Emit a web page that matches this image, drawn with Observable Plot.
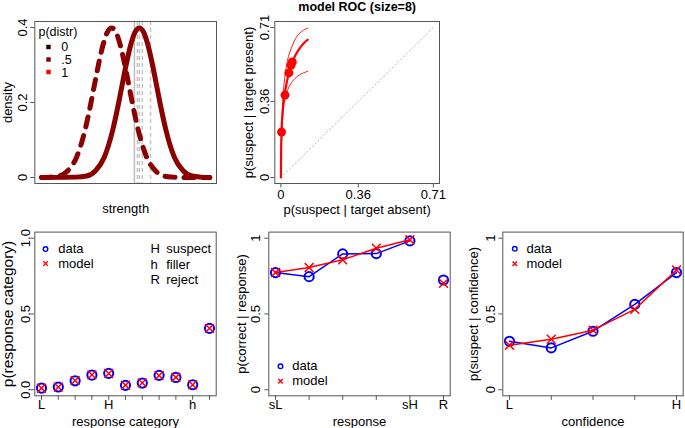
<!DOCTYPE html>
<html><head><meta charset="utf-8">
<script src="https://cdn.jsdelivr.net/npm/d3@7"></script>
<script src="https://cdn.jsdelivr.net/npm/@observablehq/plot@0.6"></script>
<style>
html,body{margin:0;padding:0;background:#fff;}
#root{position:relative;width:685px;height:428px;overflow:hidden;background:#fff;}
</style></head><body><div id="root"></div>
<script>
// ---------- Panel 1: strength distributions ----------
const foilStrength = [-4, -3.5, -3, -2.5, -2, -1.5, -1.25, -1, -0.75, -0.5, -0.25, 0, 0.25, 0.5, 0.75, 1, 1.25, 1.5, 2, 2.5, 3, 3.5, 4, 5.6];
const foilDensity  = [0, 0.001, 0.004, 0.018, 0.054, 0.13, 0.183, 0.242, 0.301, 0.352, 0.387, 0.399, 0.387, 0.352, 0.301, 0.242, 0.183, 0.13, 0.054, 0.018, 0.004, 0.001, 0, 0];
const targetStrength = [-4, -2, -1.42, -0.92, -0.42, 0.08, 0.33, 0.58, 0.83, 1.08, 1.33, 1.58, 1.83, 2.08, 2.33, 2.58, 2.83, 3.08, 3.58, 4.08, 4.58, 5.08, 5.6];
const targetDensity  = [0, 0.001, 0.004, 0.018, 0.054, 0.13, 0.183, 0.242, 0.301, 0.352, 0.387, 0.399, 0.387, 0.352, 0.301, 0.242, 0.183, 0.13, 0.054, 0.018, 0.004, 0.001, 0];
const critSolid = [1.30];
const critDashed = [1.47, 1.58, 1.75, 2.22];
const densTicks = [0, 0.2, 0.4];
const densTickLabels = ["0", "0.2", "0.4"];
const distrTitle = "p(distr)";
const distrLabels = ["0", ".5", "1"];
const distrColors = ["#1e0000", "#8B0000", "#FF0000"];

// ---------- Panel 2: model ROC ----------
const rocTitle = "model ROC (size=8)";
const rocMidFA  = [0, 0.001, 0.003, 0.008, 0.017, 0.027, 0.038, 0.047, 0.053, 0.068, 0.081, 0.095, 0.11, 0.125];
const rocMidHit = [0, 0.12, 0.216, 0.31, 0.39, 0.45, 0.495, 0.531, 0.547, 0.58, 0.602, 0.622, 0.639, 0.652];
const rocUpFA   = [0, 0.002, 0.006, 0.012, 0.02, 0.03, 0.04, 0.05, 0.062, 0.074, 0.09, 0.105, 0.125];
const rocUpHit  = [0, 0.16, 0.3, 0.41, 0.49, 0.55, 0.59, 0.617, 0.645, 0.667, 0.685, 0.697, 0.707];
const rocLoFA   = [0, 0.002, 0.005, 0.011, 0.02, 0.034, 0.05, 0.066, 0.085, 0.105, 0.125];
const rocLoHit  = [0, 0.12, 0.22, 0.32, 0.375, 0.42, 0.45, 0.469, 0.485, 0.495, 0.503];
const rocPtFA   = [0.003, 0.019, 0.037, 0.047, 0.053];
const rocPtHit  = [0.215, 0.39, 0.495, 0.531, 0.547];
const rocTicks = [0, 0.36, 0.71];
const rocTickLabels = ["0", "0.36", "0.71"];

// ---------- Panel 3: response category ----------
const respCat = [1, 2, 3, 4, 5, 6, 7, 8, 9, 10, 11];
const respCatLabels = ["L", "", "", "", "H", "", "", "", "", "h", ""];
const respData  = [0.011, 0.018, 0.059, 0.097, 0.108, 0.029, 0.044, 0.095, 0.081, 0.033, 0.405];
const respModel = [0.010, 0.017, 0.060, 0.098, 0.107, 0.030, 0.045, 0.094, 0.082, 0.032, 0.405];
const keyLetters = ["H", "h", "R"];
const keyWords = ["suspect", "filler", "reject"];

// ---------- Panel 4: p(correct | response) ----------
const respPos = [1, 2, 3, 4, 5, 6];
const respPosLabels = ["sL", "", "", "", "sH", "R"];
const corrData  = [0.773, 0.746, 0.896, 0.898, 0.982, 0.724];
const corrModel = [0.773, 0.806, 0.857, 0.934, 0.989, 0.702];

// ---------- Panel 5: p(suspect | confidence) ----------
const confPos = [1, 2, 3, 4, 5];
const confLabels = ["L", "", "", "", "H"];
const suspData  = [0.320, 0.276, 0.386, 0.563, 0.773];
const suspModel = [0.294, 0.333, 0.393, 0.530, 0.790];

const probTicks = [0, 0.5, 1];
const probTickLabels3 = ["0.0", "0.5", "1.0"];
const probTickLabels = ["0", "0.5", "1"];
const seriesLabels = ["data", "model"];

// ---------- helpers ----------
const FONT = '"Liberation Sans", Arial, Helvetica, sans-serif';
const BOX = "#555";
const BLUE = "#0000FF", RED = "#FF0000";
const root = document.getElementById("root");
const style = {fontFamily: FONT, fontSize: "13px", color: "black", background: "none", overflow: "visible"};
const pts = (xs, ys) => xs.map((x, i) => ({x, y: ys[i]}));
const T = {text: d => d, textAnchor: "middle", lineAnchor: "middle"};
const TL = {text: d => d, textAnchor: "start", lineAnchor: "middle"};
function place(svg, left, top) {
  svg.style.position = "absolute"; svg.style.left = left + "px"; svg.style.top = top + "px";
  root.appendChild(svg);
}
function yAxis(ticks, labels, pad) {
  return Plot.axisY({ticks, tickFormat: d => labels[ticks.indexOf(d)], tickSize: 4, tickPadding: pad,
    tickRotate: -90, stroke: BOX, color: "black", label: null, fontSize: 13});
}
function xAxis(ticks, labels, pad) {
  return Plot.axisX({ticks, tickFormat: d => labels[ticks.indexOf(d)], tickSize: 4.5, tickPadding: pad,
    stroke: BOX, color: "black", label: null, fontSize: 13});
}
function dmLegend(anchor, dx, dy0, dy1, tdx) {
  return [
    Plot.dot([0], {frameAnchor: anchor, dx, dy: dy0, r: 2.3, stroke: BLUE, strokeWidth: 1.4, symbol: "circle"}),
    Plot.text([seriesLabels[0]], {frameAnchor: anchor, dx: tdx, dy: dy0, ...TL}),
    Plot.dot([0], {frameAnchor: anchor, dx, dy: dy1, r: 2.2, stroke: RED, strokeWidth: 1.4, symbol: "times"}),
    Plot.text([seriesLabels[1]], {frameAnchor: anchor, dx: tdx, dy: dy1, ...TL})
  ];
}

// ---------- Panel 1 ----------
place(Plot.plot({
  width: 230, height: 220, marginLeft: 34.3, marginRight: 14, marginTop: 21, marginBottom: 37,
  style,
  x: {domain: [-4.384, 5.984], axis: null},
  y: {domain: [-0.016, 0.416]},
  marks: [
    Plot.ruleX(critSolid, {stroke: "#bdbdbd", strokeWidth: 1.5}),
    Plot.ruleX(critDashed, {stroke: "#c6c6c6", strokeWidth: 1.5, strokeDasharray: "4,3"}),
    Plot.line(pts(foilStrength, foilDensity), {x: "x", y: "y", stroke: "#8B0000", strokeWidth: 5,
      strokeDasharray: "10,9", strokeLinecap: "round", curve: "monotone-x"}),
    Plot.line(pts(targetStrength, targetDensity), {x: "x", y: "y", stroke: "#8B0000", strokeWidth: 5,
      strokeLinecap: "round", curve: "monotone-x"}),
    Plot.frame({stroke: BOX}),
    yAxis(densTicks, densTickLabels, 3.9),
    Plot.text(["density"], {frameAnchor: "left", dx: -26.8, rotate: -90, ...T}),
    Plot.text(["strength"], {frameAnchor: "bottom", dy: 25, ...T}),
    Plot.text([distrTitle], {frameAnchor: "top-left", dx: 3.7, dy: 10.5, fontSize: 12.5, ...TL}),
    ...distrLabels.flatMap((lab, i) => [
      Plot.dot([lab], {frameAnchor: "top-left", dx: 13.7, dy: 25.5 + 12.5 * i, r: 2.5, symbol: "square", fill: distrColors[i]}),
      Plot.text([lab], {frameAnchor: "top-left", dx: 26.5, dy: 25.5 + 12.9 * i, fontSize: 12.5, ...TL})
    ])
  ]
}), 0, 0);

// ---------- Panel 2 ----------
place(Plot.plot({
  width: 230, height: 220, marginLeft: 44.3, marginRight: 21, marginTop: 21, marginBottom: 37,
  style,
  x: {domain: [-0.0284, 0.7384]},
  y: {domain: [-0.0284, 0.7384]},
  marks: [
    Plot.line(pts([rocTicks[0], rocTicks[2]], [rocTicks[0], rocTicks[2]]), {x: "x", y: "y", stroke: "#bbb", strokeWidth: 1, strokeDasharray: "1.5,2.5"}),
    Plot.line(pts(rocUpFA, rocUpHit), {x: "x", y: "y", stroke: RED, strokeWidth: 0.9, curve: "monotone-x"}),
    Plot.line(pts(rocLoFA, rocLoHit), {x: "x", y: "y", stroke: RED, strokeWidth: 0.9, curve: "monotone-x"}),
    Plot.line(pts(rocMidFA, rocMidHit), {x: "x", y: "y", stroke: RED, strokeWidth: 2.2, curve: "monotone-x"}),
    Plot.dot(pts(rocPtFA, rocPtHit), {x: "x", y: "y", r: 4.5, fill: RED}),
    Plot.frame({stroke: BOX}),
    yAxis(rocTicks, rocTickLabels, 2.3),
    xAxis(rocTicks, rocTickLabels, 1.5),
    Plot.text(["p(suspect | target present)"], {frameAnchor: "left", dx: -26, rotate: -90, ...T}),
    Plot.text(["p(suspect | target absent)"], {frameAnchor: "bottom", dy: 26, ...T}),
    Plot.text([rocTitle], {frameAnchor: "top", dy: -14.3, fontWeight: "bold", fontSize: 12.5, ...T})
  ]
}), 230, 0);

// ---------- Panel 3 ----------
place(Plot.plot({
  width: 230, height: 208, marginLeft: 34.3, marginRight: 14.3, marginTop: 11.6, marginBottom: 32.7,
  style,
  x: {domain: [0.6, 11.4]},
  y: {domain: [-0.04, 1.04]},
  marks: [
    Plot.dot(pts(respCat, respData), {x: "x", y: "y", r: 4.6, stroke: BLUE, strokeWidth: 2}),
    Plot.dot(pts(respCat, respModel), {x: "x", y: "y", r: 4.1, stroke: RED, strokeWidth: 1.5, symbol: "times"}),
    Plot.frame({stroke: BOX}),
    yAxis(probTicks, probTickLabels3, 0.8),
    xAxis(respCat, respCatLabels, -0.7),
    Plot.text(["p(response category)"], {frameAnchor: "left", dx: -26.5, rotate: -90, fontSize: 15.5, ...T}),
    Plot.text(["response category"], {frameAnchor: "bottom", dy: 26, ...T}),
    ...dmLegend("top-left", 10.7, 17, 31.5, 23.4),
    ...keyLetters.flatMap((k, i) => [
      Plot.text([k], {frameAnchor: "top-left", dx: 115.7, dy: 17 + 15.5 * i, ...TL}),
      Plot.text([keyWords[i]], {frameAnchor: "top-left", dx: 131.4, dy: 17 + 15.5 * i, ...TL})
    ])
  ]
}), 0, 220);

// ---------- Panel 4 ----------
place(Plot.plot({
  width: 230, height: 208, marginLeft: 38.3, marginRight: 10.3, marginTop: 11.6, marginBottom: 32.7,
  style,
  x: {domain: [0.8, 6.2]},
  y: {domain: [-0.04, 1.04]},
  marks: [
    Plot.line(pts(respPos.slice(0, 5), corrData.slice(0, 5)), {x: "x", y: "y", stroke: BLUE, strokeWidth: 1.5}),
    Plot.dot(pts(respPos, corrData), {x: "x", y: "y", r: 4.6, stroke: BLUE, strokeWidth: 2}),
    Plot.line(pts(respPos.slice(0, 5), corrModel.slice(0, 5)), {x: "x", y: "y", stroke: RED, strokeWidth: 1.5}),
    Plot.dot(pts(respPos, corrModel), {x: "x", y: "y", r: 4.1, stroke: RED, strokeWidth: 1.5, symbol: "times"}),
    Plot.frame({stroke: BOX}),
    yAxis(probTicks, probTickLabels, 4.6),
    xAxis(respPos, respPosLabels, -0.7),
    Plot.text(["p(correct | response)"], {frameAnchor: "left", dx: -26.6, rotate: -90, ...T}),
    Plot.text(["response"], {frameAnchor: "bottom", dy: 26, ...T}),
    ...dmLegend("bottom-left", 11.7, -29.5, -14.5, 23.4)
  ]
}), 230, 220);

// ---------- Panel 5 ----------
place(Plot.plot({
  width: 225, height: 208, marginLeft: 42.3, marginRight: 2.3, marginTop: 11.6, marginBottom: 32.7,
  style,
  x: {domain: [0.84, 5.16]},
  y: {domain: [-0.04, 1.04]},
  marks: [
    Plot.line(pts(confPos, suspData), {x: "x", y: "y", stroke: BLUE, strokeWidth: 1.5}),
    Plot.dot(pts(confPos, suspData), {x: "x", y: "y", r: 4.6, stroke: BLUE, strokeWidth: 2}),
    Plot.line(pts(confPos, suspModel), {x: "x", y: "y", stroke: RED, strokeWidth: 1.5}),
    Plot.dot(pts(confPos, suspModel), {x: "x", y: "y", r: 4.1, stroke: RED, strokeWidth: 1.5, symbol: "times"}),
    Plot.frame({stroke: BOX}),
    yAxis(probTicks, probTickLabels, 4.2),
    xAxis(confPos, confLabels, -0.7),
    Plot.text(["p(suspect | confidence)"], {frameAnchor: "left", dx: -29, rotate: -90, ...T}),
    Plot.text(["confidence"], {frameAnchor: "bottom", dy: 26, ...T}),
    ...dmLegend("top-left", 12, 16.7, 31.7, 23.7)
  ]
}), 460, 220);
</script>
</body></html>
